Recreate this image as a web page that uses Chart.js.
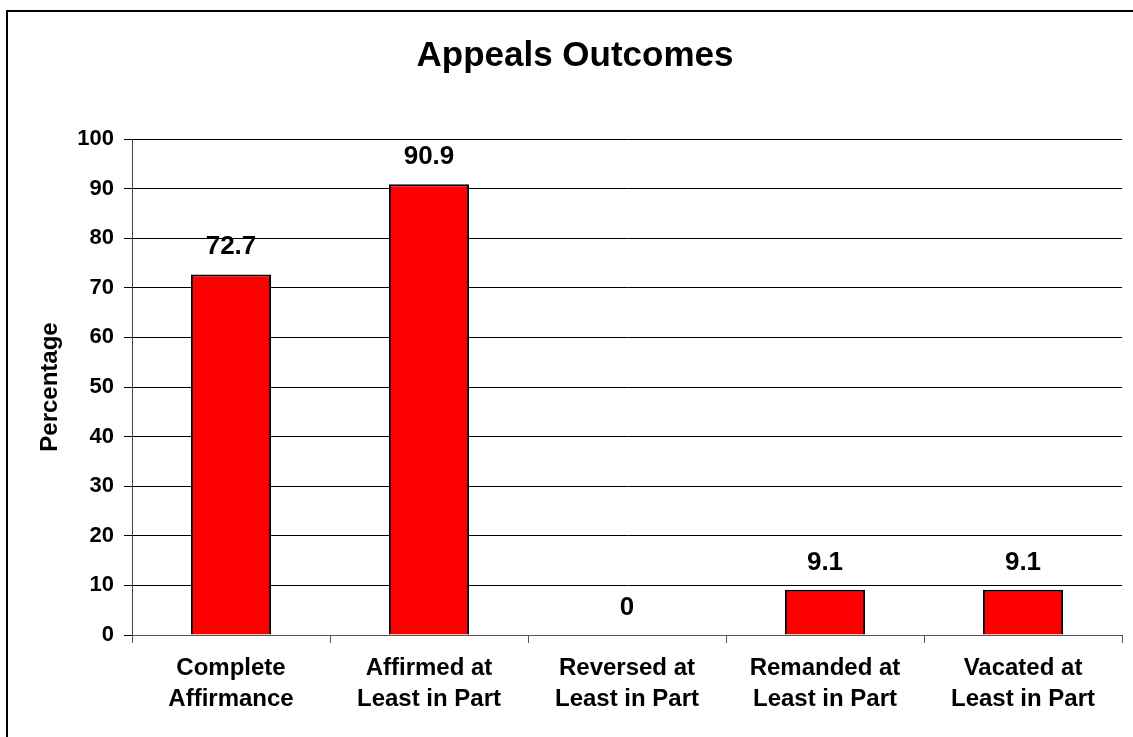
<!DOCTYPE html>
<html>
<head>
<meta charset="utf-8">
<script src="https://cdn.jsdelivr.net/npm/chart.js@4"></script>
<style>
  html, body { margin: 0; padding: 0; background: #fff; overflow: hidden; }
  #wrap { position: relative; width: 1133px; height: 737px; }
  #frame {
    position: absolute; left: 6px; top: 10px; width: 1200px; height: 800px;
    border: 2px solid #000; box-shadow: 1px 1px 1px #999; pointer-events: none;
  }
  canvas { position: absolute; left: 0; top: 0; }
</style>
</head>
<body>
<div id="wrap">
  <canvas id="barChart" width="1133" height="737"></canvas>
  <div id="frame"></div>
</div>
<script>
// data
const categories = [
    ["Complete", "Affirmance"],
    ["Affirmed at", "Least in Part"],
    ["Reversed at", "Least in Part"],
    ["Remanded at", "Least in Part"],
    ["Vacated at", "Least in Part"]
];
const percentages = [72.7, 90.9, 0, 9.1, 9.1];
const yTicks = [0, 10, 20, 30, 40, 50, 60, 70, 80, 90, 100];

const fontFamily = "'Liberation Sans', Arial, sans-serif";

// value labels above the bars
const valueLabels = {
    id: "valueLabels",
    afterDatasetsDraw(chart) {
        const ctx = chart.ctx;
        const meta = chart.getDatasetMeta(0);
        ctx.save();
        ctx.font = "bold 26px " + fontFamily;
        ctx.fillStyle = "#000";
        ctx.textAlign = "center";
        ctx.textBaseline = "alphabetic";
        meta.data.forEach((bar, i) => {
            ctx.fillText(String(percentages[i]), bar.x, bar.y - 20);
        });
        ctx.restore();
    }
};

const barCtx = document.getElementById("barChart").getContext("2d");
const barChart = new Chart(barCtx, {
    type: "bar",
    data: {
        labels: categories,
        datasets: [
            {
                data: percentages,
                backgroundColor: "#ff0000",
                borderColor: "#000",
                borderWidth: 2,
                barPercentage: 0.405,
                categoryPercentage: 1
            }
        ]
    },
    options: {
        responsive: false,
        animation: false,
        // left padding + narrower y axis keeps the plot at x=132 but centres the title like the original
        layout: { padding: { left: 28, right: 11, top: 0, bottom: 0 } },
        plugins: {
            legend: { display: false },
            tooltip: { enabled: false },
            title: {
                display: true,
                text: "Appeals Outcomes",
                color: "#000",
                font: { family: fontFamily, size: 35, weight: "bold" },
                padding: { top: 35, bottom: 62 }
            }
        },
        scales: {
            x: {
                afterFit(scale) { scale.height = 102; },
                border: { color: "#555", width: 1 },
                grid: {
                    offset: true,
                    drawOnChartArea: false,
                    color: "#555",
                    tickLength: 8
                },
                ticks: {
                    color: "#000",
                    padding: 10,
                    maxRotation: 0,
                    font: { family: fontFamily, size: 24, weight: "bold", lineHeight: 1.3 }
                }
            },
            y: {
                min: 0,
                max: 100,
                afterFit(scale) { scale.width = 104; },
                afterBuildTicks(scale) { scale.ticks = yTicks.map(v => ({ value: v })); },
                border: { color: "#444", width: 1 },
                grid: { color: "#000", tickLength: 8 },
                ticks: {
                    color: "#000",
                    padding: 10,
                    font: { family: fontFamily, size: 22, weight: "bold" }
                },
                title: {
                    display: true,
                    text: "Percentage",
                    color: "#000",
                    padding: { top: 8, bottom: 0 },
                    font: { family: fontFamily, size: 24, weight: "bold" }
                }
            }
        }
    },
    plugins: [valueLabels]
});
</script>
</body>
</html>
